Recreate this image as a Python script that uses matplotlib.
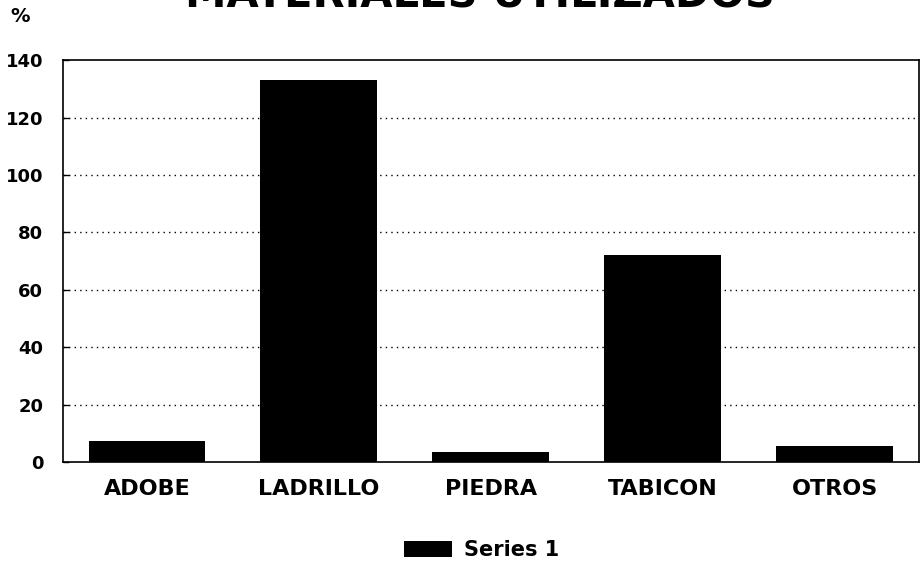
import matplotlib
matplotlib.use("Agg")
import matplotlib.pyplot as plt
from matplotlib.patches import Patch

categories = ["ADOBE", "LADRILLO", "PIEDRA", "TABICON", "OTROS"]
values = [7.3, 133, 3.5, 72, 5.6]
yticks = [0, 20, 40, 60, 80, 100, 120, 140]
title = "MATERIALES UTILIZADOS"
series_name = "Series 1"

plt.rcParams['font.family'] = ['DejaVu Sans']

fig = plt.figure(figsize=(9.23, 5.68), dpi=100)
ax = fig.add_axes([0.068, 0.1866, 0.9277, 0.7074])

x = list(range(len(categories)))
ax.bar(x, values, width=0.68, color="black", zorder=3)
ax.set_xlim(-0.49, len(categories) - 0.51)
ax.set_ylim(0, 140)
ax.set_yticks(yticks)
ax.set_yticklabels([str(v) for v in yticks], fontsize=13, fontweight="bold")
ax.set_xticks(x)
ax.set_xticklabels(categories, fontsize=16, fontweight="bold")
ax.tick_params(axis="x", length=0, pad=12)
ax.tick_params(axis="y", direction="in", length=4, pad=14, width=1)
for y in yticks[1:-1]:
    ax.axhline(y, color="black", linestyle=(0, (1, 3)), linewidth=1, zorder=1)
for s in ax.spines.values():
    s.set_linewidth(1.2)
    s.set_color("black")

fig.text(0.52, 1 - 8 / 568, title, ha="center", va="baseline", fontsize=30,
         fontweight="bold")
fig.text(0.011, 1 - 16 / 568, "%", ha="left", va="center", fontsize=14, fontweight="bold")

fig.legend(handles=[Patch(facecolor="black", label=series_name)],
           loc="center", bbox_to_anchor=(0.522, 0.032), frameon=False,
           prop={"size": 15, "weight": "bold"}, handlelength=2.3, handleheight=0.8,
           handletextpad=0.6)

fig.savefig("out.png", dpi=100)
